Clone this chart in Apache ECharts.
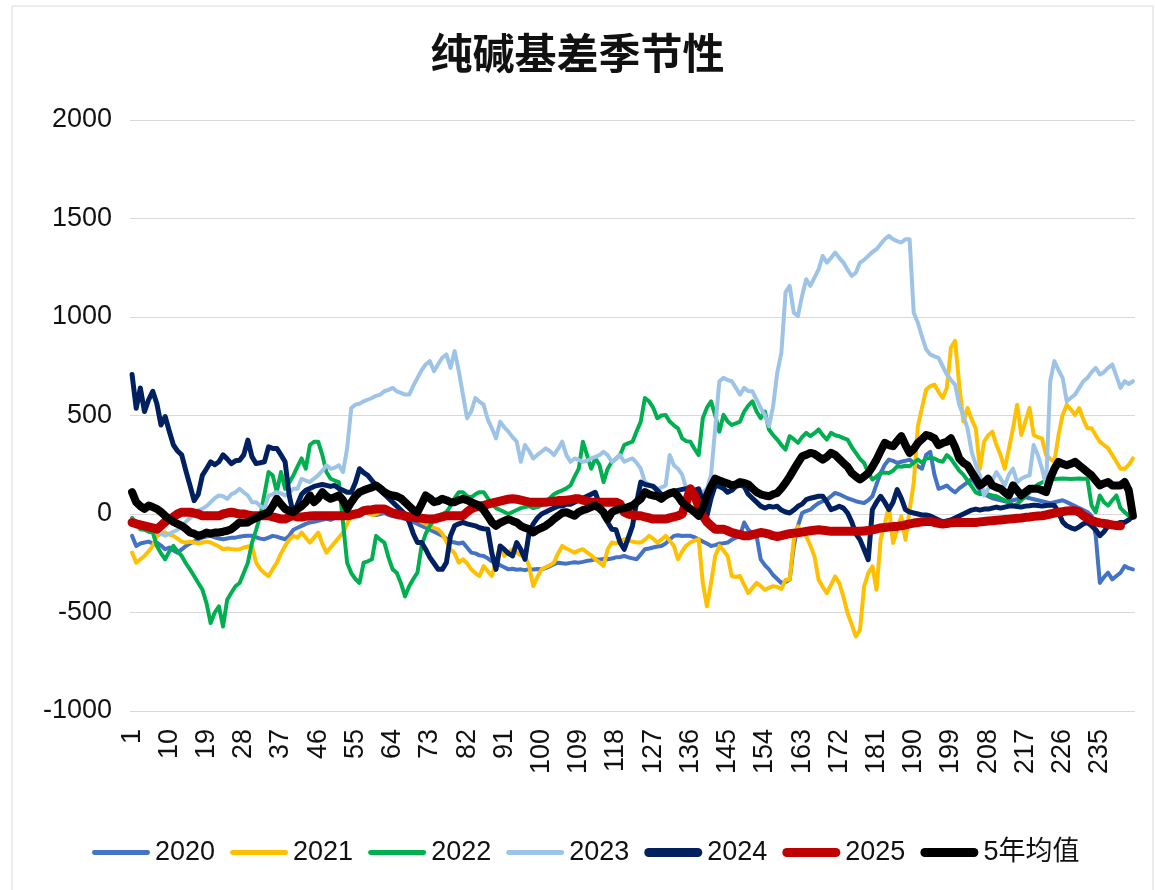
<!DOCTYPE html>
<html>
<head>
<meta charset="utf-8">
<title>纯碱基差季节性</title>
<script src="https://cdn.jsdelivr.net/npm/echarts@6/dist/echarts.min.js"></script>
<style>
  html, body { margin: 0; padding: 0; background: #fff; }
  #chart { width: 1155px; height: 890px; }
</style>
</head>
<body>
<div id="chart"></div>
<script>
// 横轴：交易日序号 1..243
const days = Array.from({ length: 243 }, (_, i) => String(i + 1));

// 各年度基差（元/吨）
const y2020 = [
  -111,-162,-150,-145,-140,-150,-145,-160,-179,-170,
  -185,-196,-180,-162,-150,-140,-128,-120,-115,-111,
  -118,-125,-128,-124,-120,-120,-115,-112,-110,-111,
  -118,-125,-128,-120,-111,-115,-122,-128,-110,-80,
  -70,-60,-50,-43,-40,-35,-30,-25,-30,-20,
  -15,-20,-10,-5,0,5,10,5,0,-5,
  0,5,-5,-10,-15,-20,-25,-30,-40,-50,
  -60,-70,-80,-90,-100,-110,-125,-140,-145,-150,
  -145,-170,-196,-200,-210,-213,-225,-240,-247,-260,
  -270,-281,-278,-283,-281,-285,-280,-282,-279,-281,
  -275,-265,-255,-247,-250,-252,-248,-245,-247,-243,
  -238,-235,-230,-232,-228,-230,-226,-220,-218,-213,
  -220,-225,-230,-205,-179,-175,-170,-165,-162,-150,
  -130,-111,-108,-112,-110,-111,-118,-128,-140,-150,
  -162,-158,-150,-148,-145,-130,-120,-111,-43,-80,
  -100,-111,-230,-260,-281,-310,-330,-350,-345,-334,
  -164,-60,5,15,22,40,55,65,73,90,
  107,100,90,80,73,65,60,56,70,90,
  150,208,250,276,270,259,265,270,276,260,
  242,230,300,316,200,128,135,145,125,110,
  130,145,160,179,150,120,100,90,80,75,
  70,65,60,70,75,80,85,80,75,70,
  65,60,55,60,65,70,60,50,40,30,
  20,10,-9,-110,-350,-320,-298,-332,-315,-298,
  -264,-275,-281
];
const y2021 = [
  -196,-247,-230,-213,-190,-162,-111,-100,-94,-105,
  -111,-125,-140,-145,-140,-145,-150,-145,-140,-145,
  -155,-165,-179,-175,-178,-180,-179,-170,-165,-162,
  -247,-280,-300,-315,-280,-247,-200,-162,-130,-111,
  -120,-94,-120,-145,-120,-94,-150,-196,-170,-145,
  -120,-94,-50,-9,0,-10,5,10,-5,0,
  10,15,5,0,-10,-20,-15,-5,-20,-30,
  -40,-50,-60,-70,-77,-100,-140,-179,-200,-247,
  -230,-250,-281,-300,-315,-264,-290,-315,-240,-162,
  -213,-195,-179,-195,-210,-213,-264,-366,-320,-281,
  -270,-260,-247,-200,-162,-175,-185,-196,-185,-179,
  -195,-210,-230,-245,-264,-179,-145,-150,-140,-128,
  -135,-140,-145,-145,-130,-111,-125,-145,-130,-111,
  -135,-162,-230,-190,-160,-145,-135,-128,-350,-469,
  -350,-213,-162,-185,-213,-315,-320,-315,-360,-401,
  -375,-350,-365,-384,-375,-366,-370,-380,-334,-334,
  -130,-63,-90,-113,-160,-215,-334,-370,-402,-360,
  -317,-351,-420,-503,-560,-622,-588,-368,-300,-266,
  -385,-130,-50,39,-147,-80,-12,-130,20,158,
  446,540,632,649,657,620,589,640,845,879,
  657,469,538,480,435,230,367,400,418,350,
  299,230,330,435,555,401,470,538,401,390,
  384,299,280,265,400,503,555,530,503,538,
  480,435,435,400,367,350,333,300,265,230,
  230,250,282
];
const y2022 = [
  -20,-50,-77,-80,-90,-94,-162,-200,-230,-190,
  -162,-190,-213,-250,-281,-315,-350,-384,-452,-554,
  -500,-469,-571,-435,-400,-367,-350,-300,-247,-145,
  -80,-9,100,213,196,111,213,128,160,196,
  240,282,230,350,367,367,300,213,179,170,
  162,-43,-247,-300,-330,-350,-247,-240,-230,-111,
  -130,-145,-220,-281,-298,-350,-418,-367,-330,-298,
  -162,-100,-60,-30,-10,0,10,40,80,111,
  111,90,85,100,111,111,80,50,30,20,
  10,0,10,20,30,35,40,30,35,45,
  60,80,100,111,120,130,145,190,230,367,
  300,230,282,250,162,230,265,280,299,350,
  360,367,420,469,589,572,540,486,500,503,
  469,450,435,384,370,367,330,299,486,540,
  572,500,418,503,470,452,460,469,520,550,
  572,520,486,520,429,400,378,350,327,395,
  380,361,390,412,395,410,429,400,378,412,
  400,395,385,378,340,310,280,259,210,175,
  190,208,210,208,220,242,240,245,242,260,
  276,260,282,285,282,270,265,299,280,250,
  220,200,170,140,110,100,105,100,94,90,
  80,70,60,43,50,70,90,110,130,150,
  160,170,175,178,179,180,179,178,179,180,
  179,179,43,9,94,60,43,70,94,30,
  9,-9
];
const y2023 = [
  -30,-40,-50,-60,-70,-80,-90,-100,-110,-100,
  -90,-80,-60,-40,-20,0,20,26,40,60,
  80,94,90,77,100,110,128,110,94,60,
  60,40,26,94,100,111,105,94,110,128,
  128,179,170,162,180,196,220,247,230,235,
  247,213,333,538,555,560,572,580,589,600,
  606,623,630,640,623,615,606,606,650,691,
  730,759,776,725,760,793,810,742,827,725,
  606,486,520,589,570,555,480,435,384,469,
  440,418,390,367,265,350,320,282,300,316,
  333,320,299,330,367,300,265,282,275,265,
  270,282,290,299,316,299,265,280,299,265,
  275,282,260,230,162,150,145,128,135,145,
  299,247,230,200,128,110,94,100,111,128,
  200,435,674,691,680,674,640,606,640,623,
  623,580,538,503,446,547,717,819,1124,1158,
  1022,1005,1107,1192,1158,1200,1242,1310,1276,1300,
  1327,1300,1276,1240,1208,1225,1276,1290,1310,1330,
  1344,1370,1395,1412,1395,1385,1378,1395,1395,1022,
  971,900,836,810,800,793,750,708,680,657,
  555,500,435,316,250,196,94,128,170,213,
  180,145,200,230,162,179,190,196,350,300,
  230,145,674,776,730,691,572,590,606,640,
  674,691,720,742,708,720,742,759,700,640,
  674,660,674
];
const y2024 = [
  708,537,640,520,580,623,560,452,495,420,
  350,320,300,220,145,68,100,196,230,265,
  250,265,300,280,256,270,273,300,375,290,
  256,260,265,341,333,333,300,265,94,0,
  50,100,120,130,140,145,150,145,140,145,
  130,120,110,110,160,230,210,196,170,145,
  120,100,80,60,40,20,0,-40,-100,-145,
  -145,-180,-220,-250,-281,-281,-247,-110,-60,-50,
  -43,-50,-55,-60,-70,-75,-77,-200,-281,-162,
  -180,-200,-213,-145,-180,-230,-94,-50,-20,0,
  10,20,30,40,40,50,50,60,70,80,
  90,100,110,50,-9,-43,-77,-80,-145,-179,
  -120,-60,60,162,150,145,140,120,100,94,
  100,110,120,125,128,128,120,128,60,-9,
  80,145,140,130,110,120,140,145,140,100,
  80,60,40,30,39,35,39,20,10,5,
  20,39,50,73,80,85,90,90,60,22,
  30,39,30,5,-40,-100,-130,-180,-232,22,
  60,90,60,22,60,124,80,22,10,5,
  0,-5,-5,-10,-20,-30,-40,-35,-30,-20,
  -10,0,10,20,25,20,25,25,30,35,
  30,35,40,40,38,35,40,42,45,43,
  40,43,45,43,10,-40,-60,-70,-77,-65,
  -50,-43,-60,-80,-110,-90,-60,-55,-50,-43,
  -43,-30,-9
];
const y2025 = [
  -43,-50,-55,-60,-65,-70,-77,-60,-40,-26,
  -15,0,9,9,9,5,0,-9,-9,-9,
  -9,-9,0,5,9,5,0,0,-5,-9,
  -9,-9,-9,-9,-15,-20,-26,-26,-15,-9,
  -15,-15,-12,-10,-9,-9,-9,-9,-9,-9,
  -9,-9,-9,-5,0,5,17,20,22,25,
  26,26,15,5,0,-5,-10,-15,-17,-20,
  -22,-24,-26,-26,-20,-15,-9,-9,-9,-9,
  -9,10,26,35,40,43,50,55,60,65,
  70,75,77,75,70,65,60,60,60,60,
  60,62,65,68,68,70,72,77,77,70,
  65,60,60,60,60,60,60,60,50,9,
  0,-5,-9,-9,-15,-20,-26,-26,-26,-26,
  -20,-15,-9,0,60,128,94,40,-9,-40,
  -60,-77,-77,-77,-85,-94,-100,-105,-111,-111,
  -105,-100,-94,-97,-102,-110,-114,-110,-105,-100,
  -97,-95,-92,-88,-85,-82,-80,-82,-85,-88,
  -88,-88,-88,-88,-88,-88,-88,-86,-84,-80,
  -76,-71,-68,-66,-64,-63,-60,-55,-50,-46,
  -43,-40,-38,-37,-43,-47,-51,-48,-45,-43,
  -43,-43,-43,-43,-43,-40,-38,-36,-34,-32,
  -30,-28,-26,-24,-22,-20,-17,-15,-12,-10,
  -9,-5,0,5,9,12,15,17,17,10,
  -9,-20,-34,-40,-45,-48,-51,-55,-58,-60
];
const avg5 = [
  111,60,40,26,43,35,26,10,-9,-26,
  -40,-50,-60,-75,-94,-100,-111,-105,-94,-100,
  -94,-94,-90,-85,-77,-60,-43,-45,-43,-30,
  -20,-9,0,9,40,77,50,26,15,9,
  26,40,60,94,60,80,111,90,77,85,
  94,70,26,60,90,111,120,128,135,145,
  130,111,100,94,90,80,60,40,20,9,
  50,94,80,60,65,77,70,60,60,70,
  77,70,60,50,43,20,-10,-43,-60,-45,
  -35,-26,-35,-43,-60,-70,-77,-94,-80,-70,
  -60,-45,-26,-10,5,9,0,-9,10,20,
  26,35,43,30,9,-26,9,20,26,30,
  35,43,60,77,111,100,94,90,77,95,
  105,111,90,60,40,26,10,-9,30,94,
  140,179,170,162,155,145,150,162,158,150,
  130,111,100,94,90,100,107,130,158,190,
  225,260,293,300,310,305,290,276,290,310,
  300,280,259,240,208,190,175,190,208,240,
  276,320,361,350,344,370,395,350,310,330,
  361,380,401,395,384,350,360,367,384,340,
  282,260,247,213,180,145,160,179,145,135,
  128,110,94,145,120,94,111,128,128,128,
  120,111,180,230,265,255,247,255,265,247,
  230,213,196,170,145,155,162,145,145,145,
  162,120,-9
];

const seriesNames = ['2020', '2021', '2022', '2023', '2024', '2025', '5年均值'];
const seriesData = [y2020, y2021, y2022, y2023, y2024, y2025, avg5];
const yTicks = { min: -1000, max: 2000, step: 500 };

// 线条颜色与粗细
const colorList = ['#4472c4', '#ffc000', '#00b050', '#9dc3e6', '#002060', '#c00000', '#000000'];
const widthList = [4, 4, 4, 4, 5, 9, 8];

// 图例线段：细线 / 粗线（首尾空点撑开高度，保证粗细不被拉伸）
const thinIcon = 'path://M0,0L0,0M2,2.5L56,2.5A2.5,2.5,0,0,1,56,7.5L2,7.5A2.5,2.5,0,0,1,2,2.5ZM58,10L58,10';
const thickIcon = 'path://M0,0L0,0M4,0.5L54,0.5A4.5,4.5,0,0,1,54,9.5L4,9.5A4.5,4.5,0,0,1,4,0.5ZM58,10L58,10';

const chart = echarts.init(document.getElementById('chart'));

const option = {
  backgroundColor: '#ffffff',
  animation: false,
  textStyle: { fontFamily: '"Liberation Sans", "Noto Sans CJK SC", sans-serif' },
  title: {
    text: '纯碱基差季节性',
    left: 'center',
    top: 27,
    textStyle: {
      fontFamily: '"Noto Sans CJK SC", sans-serif',
      fontSize: 42,
      fontWeight: 'bold',
      color: '#111'
    }
  },
  graphic: [{
    type: 'rect',
    shape: { x: 12, y: 6, width: 1141, height: 900 },
    style: { fill: 'none', stroke: '#d9d9d9', lineWidth: 1 },
    silent: true
  }],
  legend: {
    data: seriesNames.map((name, i) => ({
      name: name,
      icon: i < 4 ? thinIcon : thickIcon,
      itemStyle: { color: colorList[i] }
    })),
    left: 87,
    top: 834,
    itemWidth: 58,
    itemHeight: 10,
    itemGap: 15,
    textStyle: {
      fontFamily: '"Liberation Sans", "Noto Sans CJK SC", sans-serif',
      fontSize: 27,
      color: '#111'
    }
  },
  grid: {
    left: 130,
    right: 20,
    top: 120,
    bottom: 179
  },
  xAxis: {
    type: 'category',
    data: days,
    boundaryGap: true,
    axisLine: { show: false },
    axisTick: { show: false },
    axisLabel: {
      interval: 8,
      rotate: 90,
      margin: 18,
      fontSize: 27,
      color: '#111'
    }
  },
  yAxis: {
    type: 'value',
    min: yTicks.min,
    max: yTicks.max,
    interval: yTicks.step,
    axisLine: { show: false },
    axisTick: { show: false },
    axisLabel: {
      margin: 18,
      fontSize: 27,
      color: '#111',
      formatter: (v) => String(v)
    },
    splitLine: { lineStyle: { color: '#d9d9d9', width: 1 } }
  },
  series: seriesNames.map((name, i) => ({
    name: name,
    type: 'line',
    data: seriesData[i],
    symbol: 'none',
    smooth: false,
    color: colorList[i],
    lineStyle: { width: widthList[i], color: colorList[i], cap: 'round', join: 'round' }
  }))
};

chart.setOption(option);
</script>
</body>
</html>
